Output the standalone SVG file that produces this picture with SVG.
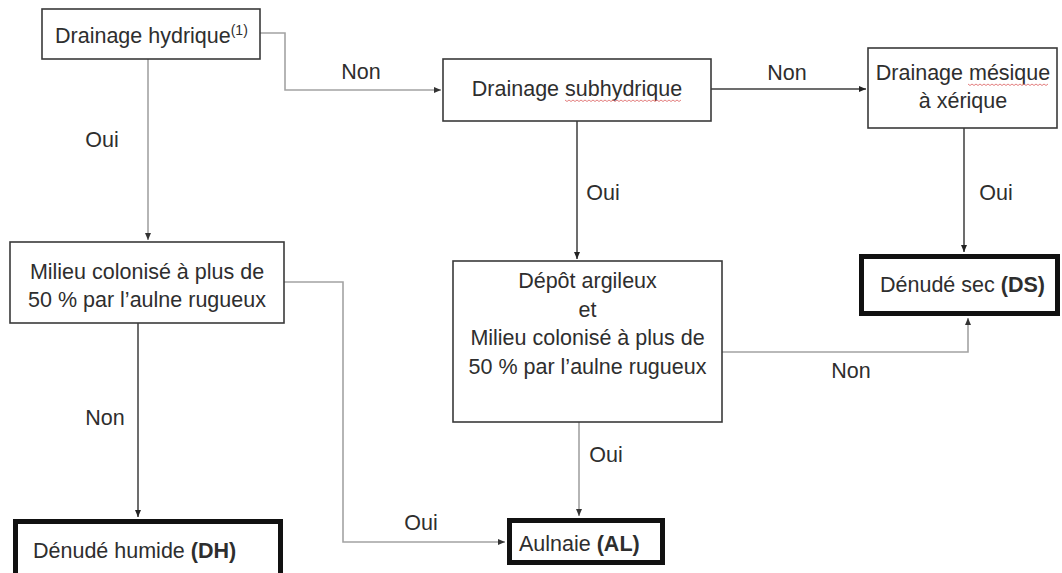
<svg xmlns="http://www.w3.org/2000/svg" width="1062" height="573" viewBox="0 0 1062 573">
<style>
text{font-family:"Liberation Sans",Arial,sans-serif;font-size:21.5px;fill:#2e2e2e}
.c{text-anchor:middle}
.b{font-weight:bold}
.box{fill:#fff;stroke:#3a3a3a;stroke-width:1.6}
.term{fill:#fff;stroke:#111;stroke-width:5}
.dk{fill:none;stroke:#3c3c3c;stroke-width:1.5}
.gr{fill:none;stroke:#a3a3a3;stroke-width:1.6}
.sq{fill:none;stroke:#e07070;stroke-width:0.9}
</style>
<defs>
<marker id="ad" markerUnits="userSpaceOnUse" markerWidth="8" markerHeight="8" refX="7" refY="4" orient="auto"><path d="M0,1 L7,4 L0,7 Z" fill="#222"/></marker>
<marker id="ag" markerUnits="userSpaceOnUse" markerWidth="8" markerHeight="8" refX="7" refY="4" orient="auto"><path d="M0,1 L7,4 L0,7 Z" fill="#333"/></marker>
</defs>
<rect width="1062" height="573" fill="#fff"/>
<g id="connectors">
<path class="gr" d="M260,33 H285 V90 H441" marker-end="url(#ag)"/>
<path class="gr" d="M148,59 V240" marker-end="url(#ag)"/>
<path class="dk" d="M711,89 H866" marker-end="url(#ad)"/>
<path class="dk" d="M577,121 V259" marker-end="url(#ad)"/>
<path class="dk" d="M964,128 V252" marker-end="url(#ad)"/>
<path class="dk" d="M138,323 V517" marker-end="url(#ad)"/>
<path class="gr" d="M284,282 H343 V542 H505" marker-end="url(#ag)"/>
<path class="gr" d="M722,352 H968 V318" marker-end="url(#ag)"/>
<path class="gr" d="M579,422 V516" marker-end="url(#ag)"/>
<text x="102" y="147" class="c">Oui</text>
<text x="361" y="79" class="c">Non</text>
<text x="787" y="80" class="c">Non</text>
<text x="603" y="200" class="c">Oui</text>
<text x="996" y="200" class="c">Oui</text>
<text x="105" y="425" class="c">Non</text>
<text x="851" y="378" class="c">Non</text>
<text x="606" y="462" class="c">Oui</text>
<text x="421" y="530" class="c">Oui</text>
</g>
<g id="n-drainage-hydrique">
<rect class="box" x="42" y="9" width="218" height="50"/>
<text x="55" y="43">Drainage hydrique<tspan dy="-8" font-size="14">(1)</tspan></text>
</g>
<g id="n-drainage-subhydrique">
<rect class="box" x="443" y="59" width="268" height="62"/>
<text x="577" y="96" class="c">Drainage subhydrique</text>
<path class="sq" d="M565,100 l2,1.5 l2,-1.5 l2,1.5 l2,-1.5 l2,1.5 l2,-1.5 l2,1.5 l2,-1.5 l2,1.5 l2,-1.5 l2,1.5 l2,-1.5 l2,1.5 l2,-1.5 l2,1.5 l2,-1.5 l2,1.5 l2,-1.5 l2,1.5 l2,-1.5 l2,1.5 l2,-1.5 l2,1.5 l2,-1.5 l2,1.5 l2,-1.5 l2,1.5 l2,-1.5 l2,1.5 l2,-1.5 l2,1.5 l2,-1.5 l2,1.5 l2,-1.5 l2,1.5 l2,-1.5 l2,1.5 l2,-1.5 l2,1.5 l2,-1.5 l2,1.5 l2,-1.5 l2,1.5 l2,-1.5 l2,1.5 l2,-1.5 l2,1.5 l2,-1.5 l2,1.5 l2,-1.5 l2,1.5 l2,-1.5 l2,1.5 l2,-1.5 l2,1.5 l2,-1.5 l2,1.5 l2,-1.5"/>
</g>
<g id="n-drainage-mesique">
<rect class="box" x="868" y="48" width="189" height="80"/>
<text x="963" y="80" class="c">Drainage mésique</text>
<text x="963" y="108" class="c">à xérique</text>
<path class="sq" d="M968,84 l2,1.5 l2,-1.5 l2,1.5 l2,-1.5 l2,1.5 l2,-1.5 l2,1.5 l2,-1.5 l2,1.5 l2,-1.5 l2,1.5 l2,-1.5 l2,1.5 l2,-1.5 l2,1.5 l2,-1.5 l2,1.5 l2,-1.5 l2,1.5 l2,-1.5 l2,1.5 l2,-1.5 l2,1.5 l2,-1.5 l2,1.5 l2,-1.5 l2,1.5 l2,-1.5 l2,1.5 l2,-1.5 l2,1.5 l2,-1.5 l2,1.5 l2,-1.5 l2,1.5 l2,-1.5 l2,1.5 l2,-1.5 l2,1.5 l2,-1.5"/>
</g>
<g id="n-milieu">
<rect class="box" x="10" y="242" width="274" height="81"/>
<text x="147" y="279" class="c">Milieu colonisé à plus de</text>
<text x="147" y="307" class="c">50 % par l’aulne rugueux</text>
</g>
<g id="n-depot">
<rect class="box" x="453" y="261" width="269" height="161"/>
<text x="587.5" y="288" class="c">Dépôt argileux</text>
<text x="587.5" y="317" class="c">et</text>
<text x="587.5" y="345" class="c">Milieu colonisé à plus de</text>
<text x="587.5" y="374" class="c">50 % par l’aulne rugueux</text>
</g>
<g id="n-ds">
<rect class="term" x="861.5" y="256.5" width="196" height="57"/>
<text x="880" y="292">Dénudé sec <tspan class="b">(DS)</tspan></text>
</g>
<g id="n-dh">
<rect class="term" x="15.5" y="521.5" width="265" height="62"/>
<text x="33" y="558">Dénudé humide <tspan class="b">(DH)</tspan></text>
</g>
<g id="n-al">
<rect class="term" x="509.5" y="520.5" width="153" height="42"/>
<text x="519" y="551">Aulnaie <tspan class="b">(AL)</tspan></text>
</g>
</svg>
